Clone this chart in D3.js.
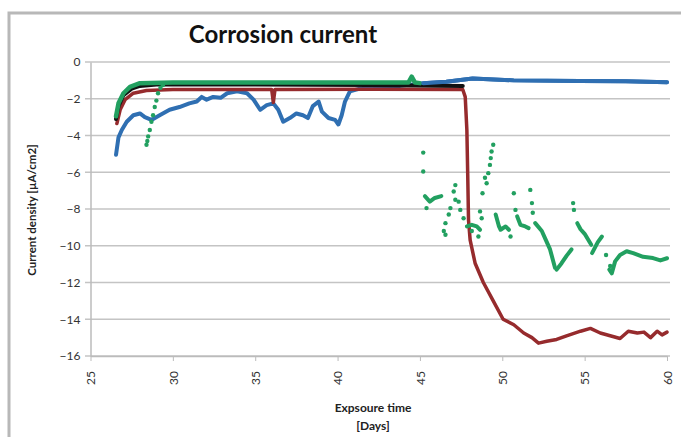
<!DOCTYPE html>
<html lang="en">
<head>
<meta charset="UTF-8">
<title>Corrosion current</title>
<script src="https://cdn.jsdelivr.net/npm/d3@7"></script>
<style>
  body { margin: 0; background: #fff; }
  text { font-family: Lato, "Open Sans", sans-serif; }
</style>
</head>
<body>
<script>
// values: [day, current density]
let blueData = [[26.55,-5.05],[26.7,-4.1],[26.9,-3.7],[27.2,-3.25],[27.6,-2.9],[28.0,-2.8],[28.3,-3.0],[28.7,-3.15],
  [29.2,-2.9],[29.8,-2.6],[30.4,-2.45],[31.0,-2.25],[31.45,-2.15],[31.75,-1.9],[32.05,-2.05],[32.45,-1.9],[32.9,-1.95],
  [33.3,-1.7],[33.9,-1.6],[34.5,-1.7],[34.9,-2.05],[35.3,-2.6],[35.7,-2.35],[36.1,-2.25],[36.4,-2.6],[36.7,-3.25],
  [37.1,-3.05],[37.5,-2.8],[37.9,-2.9],[38.2,-3.05],[38.5,-2.4],[38.85,-2.15],[39.05,-2.7],[39.45,-3.05],[39.85,-3.15],
  [40.05,-3.4],[40.25,-2.9],[40.45,-2.15],[40.75,-1.6],[41.35,-1.45],[43.8,-1.3],[45.2,-1.15],[46.6,-1.07],[48.2,-0.9],
  [50.7,-1.0],[54.7,-1.03],[57.5,-1.05],[60,-1.1]];

let blackData = [[26.55,-3.1],[26.7,-2.4],[27.0,-1.8],[27.5,-1.45],[28.0,-1.3],[29.0,-1.22],[35,-1.22],[42,-1.25],[47.6,-1.3]];

let redData = [[26.6,-3.35],[26.8,-2.6],[27.1,-2.05],[27.6,-1.7],[28.4,-1.55],[30,-1.5],[36.0,-1.5],[36.1,-2.2],[36.2,-1.5],
  [42,-1.48],[47.6,-1.5],[47.75,-1.9],[47.85,-3.7],[47.9,-6.05],[47.95,-8.6],[48.05,-9.7],[48.35,-10.95],[48.85,-12.0],
  [49.45,-13.0],[50.05,-14.0],[50.7,-14.3],[51.3,-14.75],[51.8,-15.0],[52.2,-15.3],[52.7,-15.2],[53.3,-15.1],[53.9,-14.9],
  [54.75,-14.65],[55.35,-14.5],[55.95,-14.75],[56.55,-14.9],[57.15,-15.05],[57.65,-14.65],[58.2,-14.75],[58.6,-14.7],
  [59.0,-15.0],[59.4,-14.65],[59.7,-14.85],[60,-14.7]];

let greenData = [[26.55,-2.95],[26.7,-2.25],[27.0,-1.7],[27.4,-1.35],[28.0,-1.15],[30,-1.12],[38,-1.12],[44.3,-1.12],
  [44.5,-0.8],[44.7,-1.12],[45.0,-1.15]];

// dotted green branch rising from day 28.4
let greenBranch = [[28.4,-4.5],[28.45,-4.3],[28.5,-4.05],[28.6,-3.7],[28.7,-3.25],[28.8,-2.9],[28.9,-2.45],[29.0,-2.1],
  [29.1,-1.7],[29.25,-1.4],[29.4,-1.25]];

// dense runs of green markers after day 45
let greenRuns = [
  [[45.3,-7.3],[45.6,-7.6],[45.9,-7.4],[46.3,-7.3]],
  [[47.85,-8.95],[48.15,-8.86],[48.45,-8.95],[48.65,-9.13]],
  [[49.6,-8.3],[49.8,-8.95],[49.9,-9.13],[50.2,-8.95],[50.4,-9.13]],
  [[50.9,-8.4],[51.1,-8.86],[51.4,-8.95],[51.6,-9.04]],
  [[52.0,-8.77],[52.4,-9.2],[52.6,-9.6],[52.9,-10.2],[53.2,-11.2]],
  [[53.3,-11.3],[53.6,-10.95],[53.9,-10.55],[54.2,-10.2]],
  [[54.55,-8.77],[54.75,-9.1],[55.0,-9.35],[55.4,-9.95]],
  [[55.45,-10.4],[55.8,-9.8],[56.05,-9.5]],
  [[56.5,-11.3],[56.65,-11.5],[56.85,-10.85],[57.15,-10.5],[57.55,-10.3],[57.95,-10.4],[58.55,-10.6],[59.15,-10.67],
   [59.6,-10.8],[60.0,-10.68]]
];

let greenDots = [[45.2,-4.93],[45.2,-5.96],[45.4,-7.95],[47.15,-6.7],[47.05,-7.05],[47.15,-7.5],[47.35,-7.6],[46.85,-7.95],
  [46.75,-8.3],[46.55,-8.77],[46.45,-9.2],[46.55,-9.4],[47.45,-8.05],[47.65,-8.5],[48.55,-9.5],[48.15,-9.2],
  [49.45,-4.5],[49.35,-4.87],[49.3,-5.23],[49.25,-5.6],[49.15,-6.05],[48.95,-6.3],[49.05,-6.6],[48.8,-7.14],
  [48.65,-8.13],[48.75,-8.5],[50.5,-9.5],[50.7,-7.14],[50.8,-8.05],[51.7,-6.96],[51.8,-7.68],[51.85,-8.2],
  [54.3,-7.68],[54.35,-8.05],[56.3,-10.5],[56.55,-11.1]];

let xTicks = [25, 30, 35, 40, 45, 50, 55, 60];
let yTicks = [0, -2, -4, -6, -8, -10, -12, -14, -16];

let width = 681;
let height = 437;

let x = d3.scaleLinear().domain([25, 60]).range([90.5, 667]);
let y = d3.scaleLinear().domain([-16, 0]).range([356, 62]);

let svg = d3.select('body').append('svg')
  .attr('width', width)
  .attr('height', height);

// outer frame of the chart
svg.append('path')
  .attr('d', 'M9,437 L9,13 L681,13')
  .attr('fill', 'none')
  .attr('stroke', '#b8b8b8')
  .attr('stroke-width', 3);

svg.append('text')
  .attr('x', 283)
  .attr('y', 43)
  .attr('text-anchor', 'middle')
  .attr('font-size', 24)
  .attr('font-weight', 'bold')
  .attr('fill', '#111')
  .text('Corrosion current');

// gridlines
svg.append('g')
  .selectAll('line')
  .data(yTicks)
  .enter()
  .append('line')
  .attr('x1', 85)
  .attr('x2', 670)
  .attr('y1', function (d) { return y(d); })
  .attr('y2', function (d) { return y(d); })
  .attr('stroke', '#c4c4c4')
  .attr('stroke-width', 1.5);

let yAxis = d3.axisLeft(y).tickValues(yTicks).tickSize(0).tickPadding(10);
let gy = svg.append('g')
  .attr('transform', 'translate(' + x(25) + ',0)')
  .call(yAxis);
gy.select('.domain').attr('stroke', '#bbb').attr('stroke-width', 1.5);
gy.selectAll('text').attr('font-size', 12).attr('fill', '#333').attr('font-family', 'Lato, sans-serif');

let xAxis = d3.axisBottom(x).tickValues(xTicks).tickSize(5).tickSizeOuter(0);
let gx = svg.append('g')
  .attr('transform', 'translate(0,' + y(-16) + ')')
  .call(xAxis);
gx.select('.domain').attr('stroke', '#bbb').attr('stroke-width', 1.5);
gx.selectAll('.tick line').attr('stroke', '#bbb');
gx.selectAll('text')
  .attr('font-size', 12)
  .attr('fill', '#333')
  .attr('font-family', 'Lato, sans-serif')
  .attr('transform', 'rotate(-90)')
  .attr('text-anchor', 'end')
  .attr('x', -15)
  .attr('y', 0)
  .attr('dy', '0.35em');

let line = d3.line()
  .x(function (d) { return x(d[0]); })
  .y(function (d) { return y(d[1]); });

function drawLine(data, color, w) {
  svg.append('path')
    .attr('d', line(data))
    .attr('fill', 'none')
    .attr('stroke', color)
    .attr('stroke-width', w)
    .attr('stroke-linejoin', 'round')
    .attr('stroke-linecap', 'round');
}

function drawDots(data, color, r) {
  svg.append('g')
    .selectAll('circle')
    .data(data)
    .enter()
    .append('circle')
    .attr('cx', function (d) { return x(d[0]); })
    .attr('cy', function (d) { return y(d[1]); })
    .attr('r', r)
    .attr('fill', color);
}

let blue = '#2f6fb2';
let red = '#962b2d';
let green = '#22a060';

drawLine(blueData, blue, 4);
drawLine(redData, red, 3.5);
drawLine(blackData, '#111', 4);
drawLine(greenData, green, 4.5);
drawDots(greenBranch, green, 2.2);
greenRuns.forEach(function (run) {
  drawLine(run, green, 4);
});
drawDots(greenDots, green, 2.2);

// blue line over the others after day 45
drawLine(blueData.filter(function (d) { return d[0] >= 45; }), blue, 4);

svg.append('text')
  .attr('transform', 'translate(36,210) rotate(-90)')
  .attr('text-anchor', 'middle')
  .attr('font-size', 11.5)
  .attr('font-weight', 'bold')
  .attr('fill', '#222')
  .text('Current density [µA/cm2]');

svg.append('text')
  .attr('x', 373)
  .attr('y', 412)
  .attr('text-anchor', 'middle')
  .attr('font-size', 12)
  .attr('font-weight', 'bold')
  .attr('fill', '#222')
  .text('Expsoure time');

svg.append('text')
  .attr('x', 373)
  .attr('y', 430)
  .attr('text-anchor', 'middle')
  .attr('font-size', 12)
  .attr('font-weight', 'bold')
  .attr('fill', '#222')
  .text('[Days]');
</script>
</body>
</html>
